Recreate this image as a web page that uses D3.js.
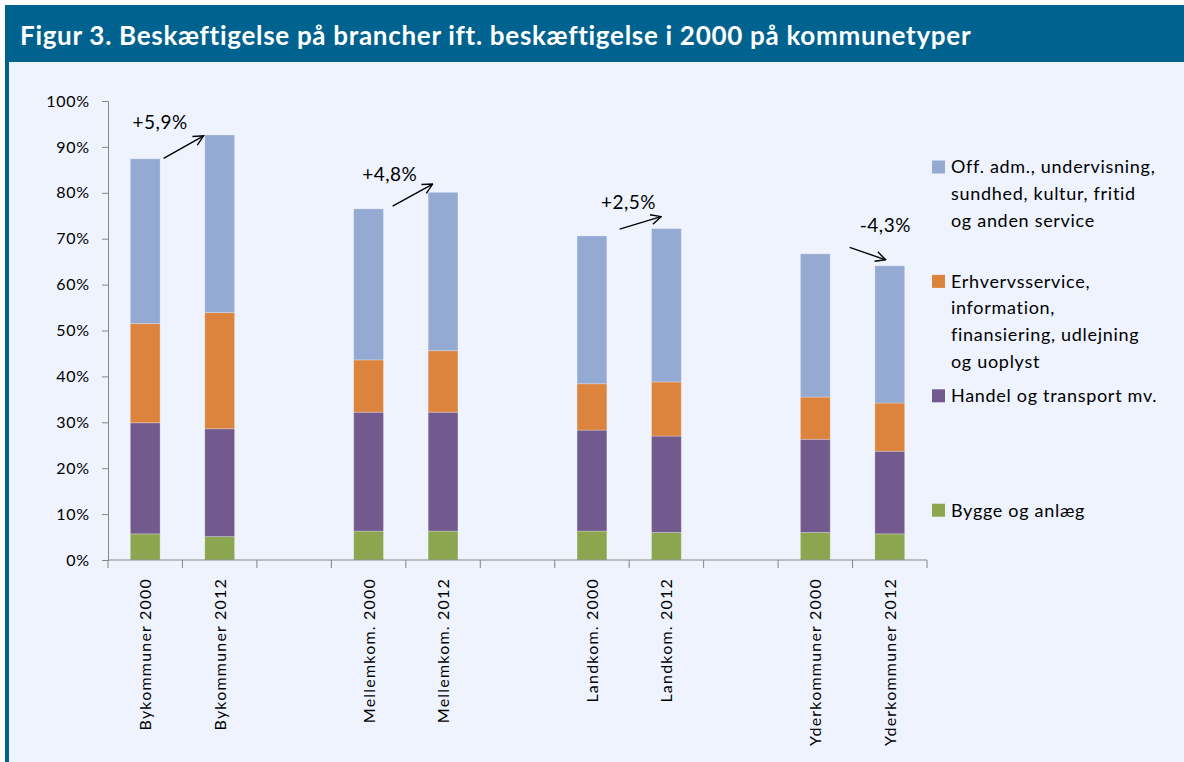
<!DOCTYPE html>
<html>
<head>
<meta charset="utf-8">
<script src="https://cdn.jsdelivr.net/npm/d3@7"></script>
<style>
  html, body { margin: 0; padding: 0; background: #fff; }
  svg { display: block; font-family: Lato, "Open Sans", sans-serif; }
</style>
</head>
<body>
<div id="chart"></div>
<script>
// categories (empty strings are the gaps between groups)
const categories = ['Bykommuner 2000', 'Bykommuner 2012', '',
                    'Mellemkom. 2000', 'Mellemkom. 2012', '',
                    'Landkom. 2000', 'Landkom. 2012', '',
                    'Yderkommuner 2000', 'Yderkommuner 2012'];
// stacked from bottom
const seriesKeys = ['bygge', 'handel', 'erhverv', 'off'];
const bygge   = [5.7, 5.1, null, 6.3, 6.3, null, 6.3, 6.0, null, 6.0, 5.7];
const handel  = [24.2, 23.5, null, 25.9, 25.9, null, 22.0, 21.0, null, 20.3, 18.0];
const erhverv = [21.6, 25.3, null, 11.4, 13.4, null, 10.1, 11.8, null, 9.2, 10.5];
const off     = [35.9, 38.7, null, 32.9, 34.5, null, 32.2, 33.4, null, 31.2, 29.9];
const colors = {bygge: '#8BA64E', handel: '#725A8E', erhverv: '#DC843E', off: '#95AAD2'};
const legendLines = {
  off: ['Off. adm., undervisning,', 'sundhed, kultur, fritid', 'og anden service'],
  erhverv: ['Erhvervsservice,', 'information,', 'finansiering, udlejning', 'og uoplyst'],
  handel: ['Handel og transport mv.'],
  bygge: ['Bygge og anlæg']
};
const legendOrder = ['off', 'erhverv', 'handel', 'bygge'];
const yTicks = [0, 10, 20, 30, 40, 50, 60, 70, 80, 90, 100];
// change annotations: position in category slots (u) and percent (v)
const annotations = [
  {text: '+5,9%', tu: 0.70, tv: 95.4, u0: 0.747, v0: 87.5, u1: 1.284, v1: 92.4},
  {text: '+4,8%', tu: 3.785, tv: 84.1, u0: 3.823, v0: 77.1, u1: 4.360, v1: 81.9},
  {text: '+2,5%', tu: 6.99, tv: 78.0, u0: 6.872, v0: 72.1, u1: 7.428, v1: 74.8},
  {text: '-4,3%', tu: 10.44, tv: 72.8, u0: 9.961, v0: 68.1, u1: 10.445, v1: 65.4}
];
const title = 'Figur 3. Beskæftigelse på brancher ift. beskæftigelse i 2000 på kommunetyper';

const W = 1184, H = 762;
const plot = {left: 108, right: 927, top: 101, bottom: 560};
const axisColor = '#868686';

const svg = d3.select('#chart').append('svg')
  .attr('width', W).attr('height', H);

// frame
svg.append('rect').attr('x', 0).attr('y', 0).attr('width', W).attr('height', H).attr('fill', '#fff');
svg.append('rect').attr('x', 5).attr('y', 5).attr('width', W - 5).attr('height', H - 5).attr('fill', '#00628F');
svg.append('rect').attr('x', 9).attr('y', 62).attr('width', W - 9).attr('height', H - 62).attr('fill', '#EEF3FE');
svg.append('text')
  .attr('x', 20).attr('y', 45)
  .attr('fill', '#fff')
  .attr('font-weight', 'bold')
  .attr('font-size', 26)
  .attr('letter-spacing', 0.7)
  .text(title);

const x = d3.scaleBand()
  .domain(d3.range(categories.length))
  .range([plot.left, plot.right])
  .paddingInner(0.6)
  .paddingOuter(0.3);
const slot = d3.scaleLinear().domain([0, categories.length]).range([plot.left, plot.right]);
const y = d3.scaleLinear().domain([0, 100]).range([plot.bottom, plot.top]);

const rows = categories.map((c, i) => ({i, bygge: bygge[i], handel: handel[i], erhverv: erhverv[i], off: off[i]}))
  .filter(d => d.bygge != null);
const stacked = d3.stack().keys(seriesKeys)(rows);

svg.append('g')
  .selectAll('g')
  .data(stacked)
  .join('g')
  .attr('fill', d => colors[d.key])
  .selectAll('rect')
  .data(d => d)
  .join('rect')
  .attr('x', d => x(d.data.i))
  .attr('width', x.bandwidth())
  .attr('y', d => y(d[1]))
  .attr('height', d => y(d[0]) - y(d[1]))
  .attr('stroke', '#ffffff')
  .attr('stroke-opacity', 0.25)
  .attr('stroke-width', 1);

// y axis
const yAxis = svg.append('g')
  .attr('transform', `translate(${plot.left},0)`)
  .call(d3.axisLeft(y).tickValues(yTicks).tickSize(6).tickPadding(12).tickFormat(d => d + '%'));
yAxis.select('.domain').attr('stroke', axisColor);
yAxis.selectAll('.tick line').attr('stroke', axisColor);
yAxis.selectAll('text')
  .attr('font-size', 16)
  .attr('letter-spacing', 0.8)
  .attr('fill', '#000')
  .attr('font-family', 'Lato, sans-serif');

// x axis: ticks on slot boundaries
const xAxis = svg.append('g').attr('transform', `translate(0,${plot.bottom})`);
xAxis.append('line')
  .attr('x1', plot.left).attr('x2', plot.right)
  .attr('stroke', axisColor);
xAxis.selectAll('line.tk')
  .data(d3.range(categories.length + 1))
  .join('line')
  .attr('class', 'tk')
  .attr('x1', d => slot(d)).attr('x2', d => slot(d))
  .attr('y1', 0).attr('y2', 8)
  .attr('stroke', axisColor);
xAxis.selectAll('text')
  .data(categories.map((c, i) => ({c, i})).filter(d => d.c))
  .join('text')
  .attr('transform', d => `translate(${x(d.i) + x.bandwidth() / 2 + 6},18) rotate(-90)`)
  .attr('text-anchor', 'end')
  .attr('font-size', 16)
  .attr('letter-spacing', 1.2)
  .text(d => d.c);

// annotations
svg.append('defs').append('marker')
  .attr('id', 'arrow')
  .attr('viewBox', '0 0 12 12')
  .attr('refX', 11).attr('refY', 6)
  .attr('markerWidth', 12).attr('markerHeight', 12)
  .attr('markerUnits', 'userSpaceOnUse')
  .attr('orient', 'auto')
  .append('path')
  .attr('d', 'M1,1 L11,6 L1,11')
  .attr('fill', 'none')
  .attr('stroke', '#000')
  .attr('stroke-width', 1.4);

const ann = svg.append('g');
ann.selectAll('line')
  .data(annotations)
  .join('line')
  .attr('x1', d => slot(d.u0)).attr('y1', d => y(d.v0))
  .attr('x2', d => slot(d.u1)).attr('y2', d => y(d.v1))
  .attr('stroke', '#000')
  .attr('stroke-width', 1.4)
  .attr('marker-end', 'url(#arrow)');
ann.selectAll('text')
  .data(annotations)
  .join('text')
  .attr('x', d => slot(d.tu)).attr('y', d => y(d.tv))
  .attr('dy', '0.35em')
  .attr('text-anchor', 'middle')
  .attr('font-size', 19)
  .attr('letter-spacing', 0.5)
  .text(d => d.text);

// legend
const legendTop = 167, legendStep = 114.4, lineH = 26.7;
const lg = svg.append('g').selectAll('g')
  .data(legendOrder)
  .join('g')
  .attr('transform', (d, i) => `translate(932,${legendTop + i * legendStep})`);
lg.append('rect')
  .attr('x', 0).attr('y', -6.5)
  .attr('width', 13).attr('height', 13)
  .attr('fill', d => colors[d]);
lg.selectAll('text')
  .data(d => legendLines[d])
  .join('text')
  .attr('x', 19)
  .attr('y', (d, j) => j * lineH)
  .attr('dy', '0.35em')
  .attr('font-size', 18)
  .attr('letter-spacing', 0.7)
  .text(d => d);
</script>
</body>
</html>
